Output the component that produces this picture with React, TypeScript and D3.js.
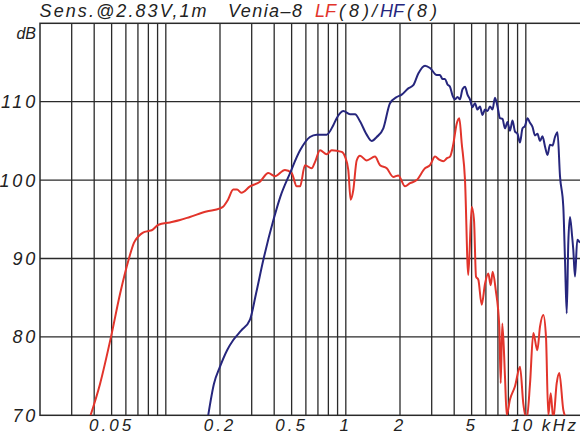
import React from "react";
import * as d3 from "d3";

// Frequency (Hz) and level (dB)
const lfFreq = [38.2, 43.1, 49.6, 55.7, 62.4, 66.5, 70.3, 74.7, 80, 83.5, 91, 105.5, 120, 136, 168, 200, 208, 221.6, 237, 248.6, 263, 293.6, 333.6, 371, 404, 459, 500, 534, 557, 593, 646, 674, 719, 783, 835, 949, 990, 1032, 1064, 1100, 1149, 1199, 1306, 1452, 1549, 1688, 1836, 1958, 2133, 2273, 2476, 2754, 2936, 3131, 3300, 3480, 3650, 3793, 3950, 4130, 4270, 4404, 4594, 4791, 5004, 5154, 5288, 5446, 5688, 5934, 6190, 6382, 6546, 6804, 7124, 7252, 7402, 7662, 7832, 8166, 8710, 9284, 9684, 10114, 10550, 11008, 11584, 11990, 12510, 12944, 13332, 13748, 14214, 14846, 15348, 16154, 16874];
const lfDb = [70, 74, 80, 85.5, 90, 92, 92.8, 93.3, 93.5, 93.6, 94.3, 94.6, 94.9, 95.3, 96.0, 96.4, 96.6, 97.5, 98.8, 98.8, 98.4, 99.2, 99.8, 100.9, 100.5, 101.3, 100.9, 99.2, 99.2, 101.9, 101.5, 102.3, 103.8, 103.3, 103.8, 103.6, 103.0, 101.3, 97.5, 98.7, 102.5, 103.1, 102.5, 103.0, 101.9, 101.5, 100.4, 100.6, 99.2, 99.6, 100, 101.5, 101.9, 103, 102.6, 102.4, 102.8, 103, 104.5, 107.2, 107.9, 104.7, 100, 87.9, 96.6, 94.9, 87.7, 87.3, 84.1, 86.8, 88.1, 86.6, 88.3, 86.0, 81.3, 74.1, 81.7, 74.9, 70, 72, 73.7, 76.2, 71.5, 69.5, 74, 80.5, 78.3, 81.3, 82.8, 80, 70, 72.8, 69.5, 74.1, 75.4, 70.7, 69.5];

const hfFreq = [172, 185, 200, 219, 237, 262, 293.6, 317, 348, 396, 433, 490, 557, 632, 689, 783, 852, 890, 968, 1055, 1125, 1199, 1306, 1392, 1485, 1616, 1760, 1918, 2044, 2224, 2371, 2528, 2754, 2936, 3198,
  3336, 3444, 3556, 3672, 3791, 3914, 4041, 4173, 4308, 4448, 4593, 4742, 4896, 5055, 5219, 5389, 5564, 5745, 5931, 6124, 6323, 6529, 6741, 6960, 7186, 7420, 7661, 7910, 8167, 8432, 8706, 8989, 9282, 9583, 9895, 10216, 10548, 10891, 11245, 11611, 11988, 12378, 12780, 13196, 13624, 14067, 14525, 14997, 15484,
  16154, 16510, 16874, 17220, 17596, 18054, 18358, 18758, 19320, 20000];
const hfDb = [70, 74, 76.2, 78.3, 79.6, 80.8, 82.2, 85.5, 89.8, 94.9, 97.9, 100.9, 103.8, 105.5, 105.8, 105.8, 107.0, 107.9, 108.8, 108.4, 108.4, 107.5, 105.8, 105.0, 105.5, 106.6, 109.8, 110.6, 110.9, 111.7, 112.1, 113.6, 114.6, 114.3, 113.4,
  113.4, 112.9, 112.9, 112.2, 111.9, 110.8, 110.3, 110.6, 110.3, 111.6, 111.9, 110.9, 110.3, 109.3, 109.8, 109.0, 109.4, 108.3, 109.0, 108.8, 109.4, 109.0, 110.5, 109.4, 107.9, 107.8, 106.6, 107.4, 106.3, 107.6, 106.2, 105.9, 104.8, 106.6, 106.9, 107.9, 107.3, 106.8, 105.7, 105.9, 105.0, 105.6, 104.3, 103.2, 104.5, 104.4, 105.5, 106.1, 100.5,
  96.6, 89.8, 83.0, 92, 95.3, 93.0, 91.1, 87.7, 92.4, 92];

const gridFreqs = [30, 40, 50, 60, 70, 80, 90, 100, 200, 300, 400, 500, 600, 700, 800, 900, 1000, 2000, 3000, 4000, 5000, 6000, 7000, 8000, 9000, 10000];
const xTickFreqs = [50, 200, 500, 1000, 2000, 5000];
const xTickLabels = ["0.05", "0.2", "0.5", "1", "2", "5"];
const yTicks = [70, 80, 90, 100, 110];

const W = 580, H = 435;
const L = 40, R = 580, T = 23.3, B = 415.3;

export default function App() {
  const x = d3.scaleLog().domain([20, 20000]).range([L, R]);
  const y = d3.scaleLinear().domain([70, 120]).range([B, T]);
  const line = d3.line<[number, number]>().x(d => x(d[0])).y(d => y(d[1])).curve(d3.curveMonotoneX);
  const lf = line(lfFreq.map((f, i) => [f, lfDb[i]]) as [number, number][]) || "";
  const hf = line(hfFreq.map((f, i) => [f, hfDb[i]]) as [number, number][]) || "";
  const font = "'Liberation Sans', Arial, sans-serif";
  const gridColor = "#2a2a2a";
  const red = "#e2342b";
  const blue = "#26267d";
  return (
    <svg width={W} height={H} style={{ position: "absolute", left: 0, top: 0, background: "#fff" }} fontFamily={font}>
      <defs>
        <clipPath id="plot"><rect x={L} y={T} width={R - L} height={B - T} /></clipPath>
      </defs>
      <rect x={0} y={0} width={W} height={H} fill="#fff" />
      {gridFreqs.map(f => (
        <line key={"v" + f} x1={x(f)} x2={x(f)} y1={T} y2={B} stroke={gridColor} strokeWidth={1.3} />
      ))}
      {[80, 90, 100, 110].map(v => (
        <line key={"h" + v} x1={L} x2={R} y1={y(v)} y2={y(v)} stroke={gridColor} strokeWidth={1.3} />
      ))}
      <rect x={L} y={T} width={R - L + 2} height={B - T} fill="none" stroke={gridColor} strokeWidth={1.5} />
      <g clipPath="url(#plot)">
        <path d={lf} fill="none" stroke={red} strokeWidth={2} strokeLinejoin="round" />
        <path d={hf} fill="none" stroke={blue} strokeWidth={2} strokeLinejoin="round" />
      </g>
      <g fontStyle="italic" fill="#222" fontSize={18}>
        <text x={39.6} y={17} textLength={167} lengthAdjust="spacing">Sens.@2.83V,1m</text>
        <text x={228} y={17} textLength={74} lengthAdjust="spacing">Venia–8</text>
        <text x={315} y={17} fill={red}>LF</text>
        <text x={339} y={17} textLength={30} lengthAdjust="spacing">(8)</text>
        <text x={372} y={17}>/</text>
        <text x={380} y={17} fill={blue}>HF</text>
        <text x={407} y={17} textLength={30} lengthAdjust="spacing">(8)</text>
      </g>
      <g fontStyle="italic" fill="#222" fontSize={17}>
        <text x={36} y={38.5} textAnchor="end" fontSize={16}>dB</text>
        {yTicks.map(v => (
          <text key={"y" + v} x={38} y={y(v) + 6.5} textAnchor="end" letterSpacing={2.8} fontSize={18}>{v}</text>
        ))}
        {xTickFreqs.map((f, i) => (
          <text key={"x" + f} x={x(f)} y={431} textAnchor="middle" letterSpacing={3}>{xTickLabels[i]}</text>
        ))}
        <text x={511} y={431} letterSpacing={2.4}>10 kHz</text>
      </g>
    </svg>
  );
}
